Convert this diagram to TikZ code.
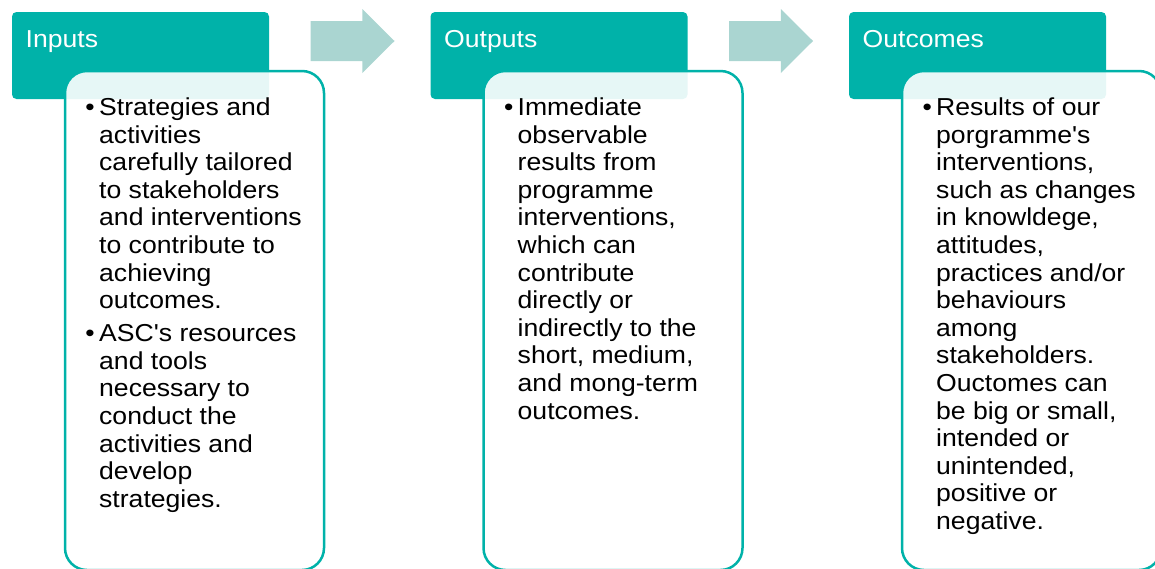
\documentclass[tikz,border=0pt]{standalone}
\usepackage{fontspec}
\newfontfamily\diagfont{Liberation Sans}[FakeStretch=1.085]
\definecolor{stageteal}{RGB}{0,178,169}
\definecolor{arrowteal}{RGB}{170,213,209}
\newcommand\stagebullet{\llap{\char"2022\kern4.4pt}}
\tikzset{
  header/.style={fill=stageteal, rounded corners=4.5pt},
  bodybox/.style={draw=stageteal, line width=2.5pt, fill=white, fill opacity=0.9, rounded corners=22pt},
  stagearrow/.style={fill=arrowteal},
  headtext/.style={anchor=base west, inner sep=0pt, text=white,
    font=\diagfont\fontsize{24.5}{27.6}\selectfont},
  % multi-line text: the base anchor sits on the last line's baseline
  bodytext/.style={anchor=base west, inner sep=0pt, align=left, text=black,
    font=\diagfont\fontsize{24.5}{27.6}\selectfont},
}
\begin{document}
\begin{tikzpicture}[x=1pt, y=-1pt]
  \useasboundingbox (0,0) rectangle (1155,568);
  \clip (0,0) rectangle (1155,568);

  % header tabs
  \path[header] (12,12) rectangle (269,99);
  \path[header] (430.5,12) rectangle (687.5,99);
  \path[header] (849,12) rectangle (1106,99);

  % content panels, laid over the tabs
  \path[bodybox] (65,71) rectangle (324,570);
  \path[bodybox] (483.5,71) rectangle (742.5,570);
  \path[bodybox] (902,71) rectangle (1161,570);

  % block arrows between the stages
  \foreach \dx in {0,418.5}{
    \path[stagearrow, shift={(\dx,0)}]
      (310.7,21) -- (362.3,21) -- (362.3,9) -- (394.5,41)
      -- (362.3,73) -- (362.3,61) -- (310.7,61) -- cycle;
  }

  % tab titles
  \node[headtext] (inputs)   at (25.5,47.7)  {Inputs};
  \node[headtext] (outputs)  at (444,47.7) {Outputs};
  \node[headtext] (outcomes) at (862.5,47.7) {Outcomes};

  % panel texts (first baseline at 115.5, line pitch 27.6)
  \node[bodytext] (inputstext) at (99,507.3) {%
    \stagebullet Strategies and\\ activities\\ carefully tailored\\ to stakeholders\\
    and interventions\\ to contribute to\\ achieving\\ outcomes.\\[5.4pt]
    \stagebullet ASC's resources\\ and tools\\ necessary to\\ conduct the\\
    activities and\\ develop\\ strategies.};
  \node[bodytext] (outputstext) at (517.5,419.1) {%
    \stagebullet Immediate\\ observable\\ results from\\ programme\\
    interventions,\\ which can\\ contribute\\ directly or\\ indirectly to the\\
    short, medium,\\ and mong-term\\ outcomes.};
  \node[bodytext] (outcomestext) at (936,529.5) {%
    \stagebullet Results of our\\ porgramme's\\ interventions,\\ such as changes\\
    in knowldege,\\ attitudes,\\ practices and/or\\ behaviours\\ among\\
    stakeholders.\\ Ouctomes can\\ be big or small,\\ intended or\\ unintended,\\
    positive or\\ negative.};
\end{tikzpicture}
\end{document}
